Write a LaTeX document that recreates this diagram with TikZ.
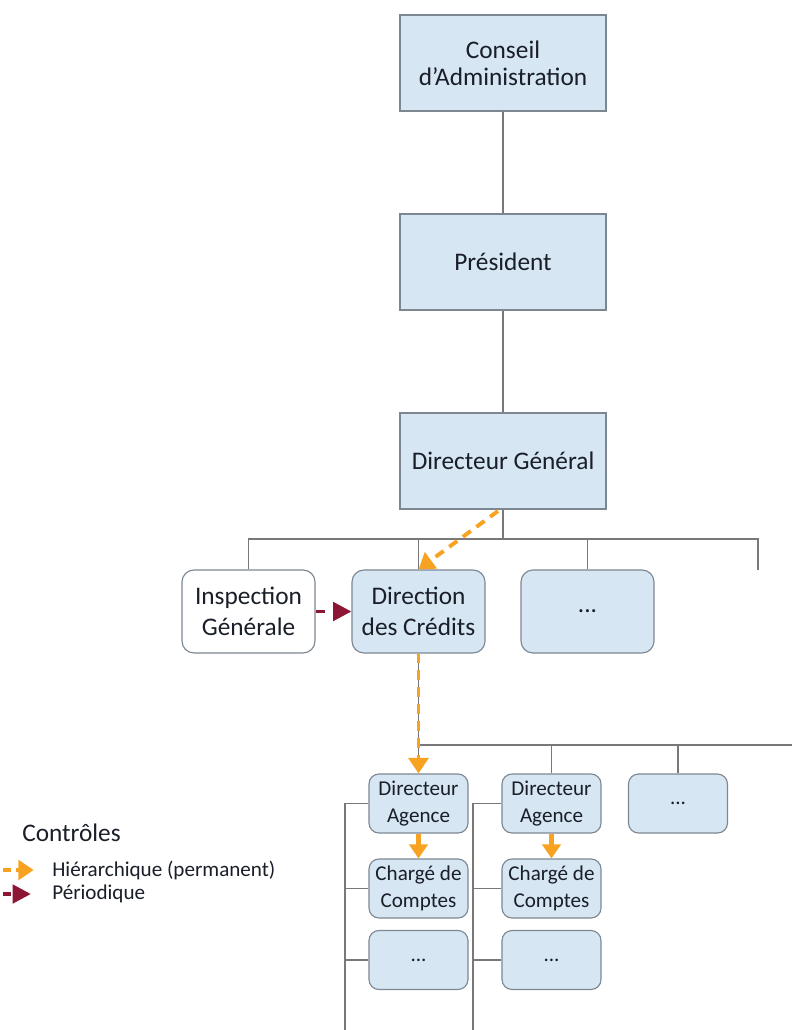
\documentclass[tikz,border=0pt]{standalone}
\usepackage{fontspec}
\setmainfont{Carlito}
\usetikzlibrary{arrows.meta,positioning}
\definecolor{boxfill}{RGB}{214,230,243}
\definecolor{boxline}{RGB}{125,135,145}
\definecolor{treeline}{RGB}{120,120,120}
\definecolor{ctrlorange}{RGB}{247,163,33}
\definecolor{ctrlred}{RGB}{140,22,52}
\definecolor{txt}{RGB}{25,30,40}

\begin{document}
\begin{tikzpicture}[x=0.025cm,y=-0.025cm,
      topbox/.style={draw=boxline,fill=boxfill,line width=0.8pt,
                     minimum width=5.15cm,minimum height=2.4cm,
                     align=center,text=txt,
                     font=\fontsize{18}{19}\selectfont},
      midbox/.style={topbox,rounded corners=0.3cm,
                     minimum width=3.325cm,minimum height=2.075cm,
                     font=\fontsize{18}{22.5}\selectfont},
      subbox/.style={topbox,rounded corners=0.25cm,
                     minimum width=2.475cm,minimum height=1.475cm,
                     font=\fontsize{15}{19}\selectfont},
      tree/.style={draw=treeline,line width=0.9pt},
      perm/.style={ctrlorange,line width=2.8pt,dash pattern=on 7pt off 5pt,
                   -{Triangle[width=14pt,length=11pt]}},
      permshort/.style={ctrlorange,line width=3pt,
                   -{Triangle[width=13pt,length=10pt]}},
      period/.style={ctrlred,line width=2.8pt,dash pattern=on 7pt off 6pt,
                   -{Triangle[width=13pt,length=13pt]}},
      legend/.style={anchor=west,inner sep=0pt,text=txt,
                     font=\fontsize{15}{18}\selectfont},
    ]
    \useasboundingbox (0,0) rectangle (792,1030);

    % top of the hierarchy
    \node[topbox] (conseil)   at (503,63)  {Conseil\\d'Administration};
    \node[topbox] (president) at (503,262) {Président};
    \node[topbox] (dg)        at (503,461) {Directeur Général};

    % directions
    \node[midbox,fill=white] (inspection) at (248.5,611.5) {Inspection\\Générale};
    \node[midbox] (direction) at (418.5,611.5) {Direction\\des Crédits};
    \node[midbox] (dots1)     at (587.5,611.5) {...};

    % agences
    \node[subbox] (da1)   at (418.5,803.5) {Directeur\\Agence};
    \node[subbox] (cc1)   at (418.5,888.5) {Chargé de\\Comptes};
    \node[subbox] (more1) at (418.5,960)   {...};
    \node[subbox] (da2)   at (551.5,803.5) {Directeur\\Agence};
    \node[subbox] (cc2)   at (551.5,888.5) {Chargé de\\Comptes};
    \node[subbox] (more2) at (551.5,960)   {...};
    \node[subbox] (dots2) at (678,803.5)   {...};

    % tree lines
    \coordinate (busA)    at (503,539);
    \coordinate (busAend) at (758,539);
    \coordinate (stubA)   at (758,570);
    \coordinate (busB)    at (418.5,745);
    \coordinate (busBend) at (792,745);
    \coordinate (col1end) at (345,1030);
    \coordinate (col2end) at (473,1030);

    \draw[tree] (conseil) -- (president) -- (dg);
    \draw[tree] (dg) -- (busA);
    \draw[tree] (inspection.north) |- (busAend) -- (stubA);
    \draw[tree] (direction.north) -- (direction.north |- busA);
    \draw[tree] (dots1.north) -- (dots1.north |- busA);

    \draw[tree] (direction) -- (da1);
    \draw[tree] (busB) -- (busBend);
    \draw[tree] (da2.north) -- (da2.north |- busB);
    \draw[tree] (dots2.north) -- (dots2.north |- busB);

    \draw[tree] (da1.west) -| (col1end);
    \draw[tree] (cc1.west) -- (cc1.west -| col1end);
    \draw[tree] (more1.west) -- (more1.west -| col1end);
    \draw[tree] (da2.west) -| (col2end);
    \draw[tree] (cc2.west) -- (cc2.west -| col2end);
    \draw[tree] (more2.west) -- (more2.west -| col2end);

    % controls
    \coordinate (dgout) at (498,511);
    \draw[perm] (dgout) -- (direction.north);
    \draw[perm] (direction.south) -- (da1.north);
    \draw[permshort] (da1) -- (cc1);
    \draw[permshort] (da2) -- (cc2);
    \draw[period] (inspection.east) -- (direction.west);

    % legend
    \node[legend,font=\fontsize{18}{20}\selectfont] (ctrl) at (22,833) {Contrôles};
    \node[legend] (leghier) at (52,870) {Hiérarchique (permanent)};
    \node[legend] (legper)  at (52,894) {Périodique};
    \coordinate (leghierA) at (3,870);
    \coordinate (legperA)  at (3,894);
    \draw[perm,dash pattern=on 6pt off 3pt,shorten >=13pt] (leghierA) -- (leghier.west);
    \draw[period,dash pattern=on 6pt off 3pt,shorten >=15pt] (legperA) -- (legper.west);

  \end{tikzpicture}
\end{document}
